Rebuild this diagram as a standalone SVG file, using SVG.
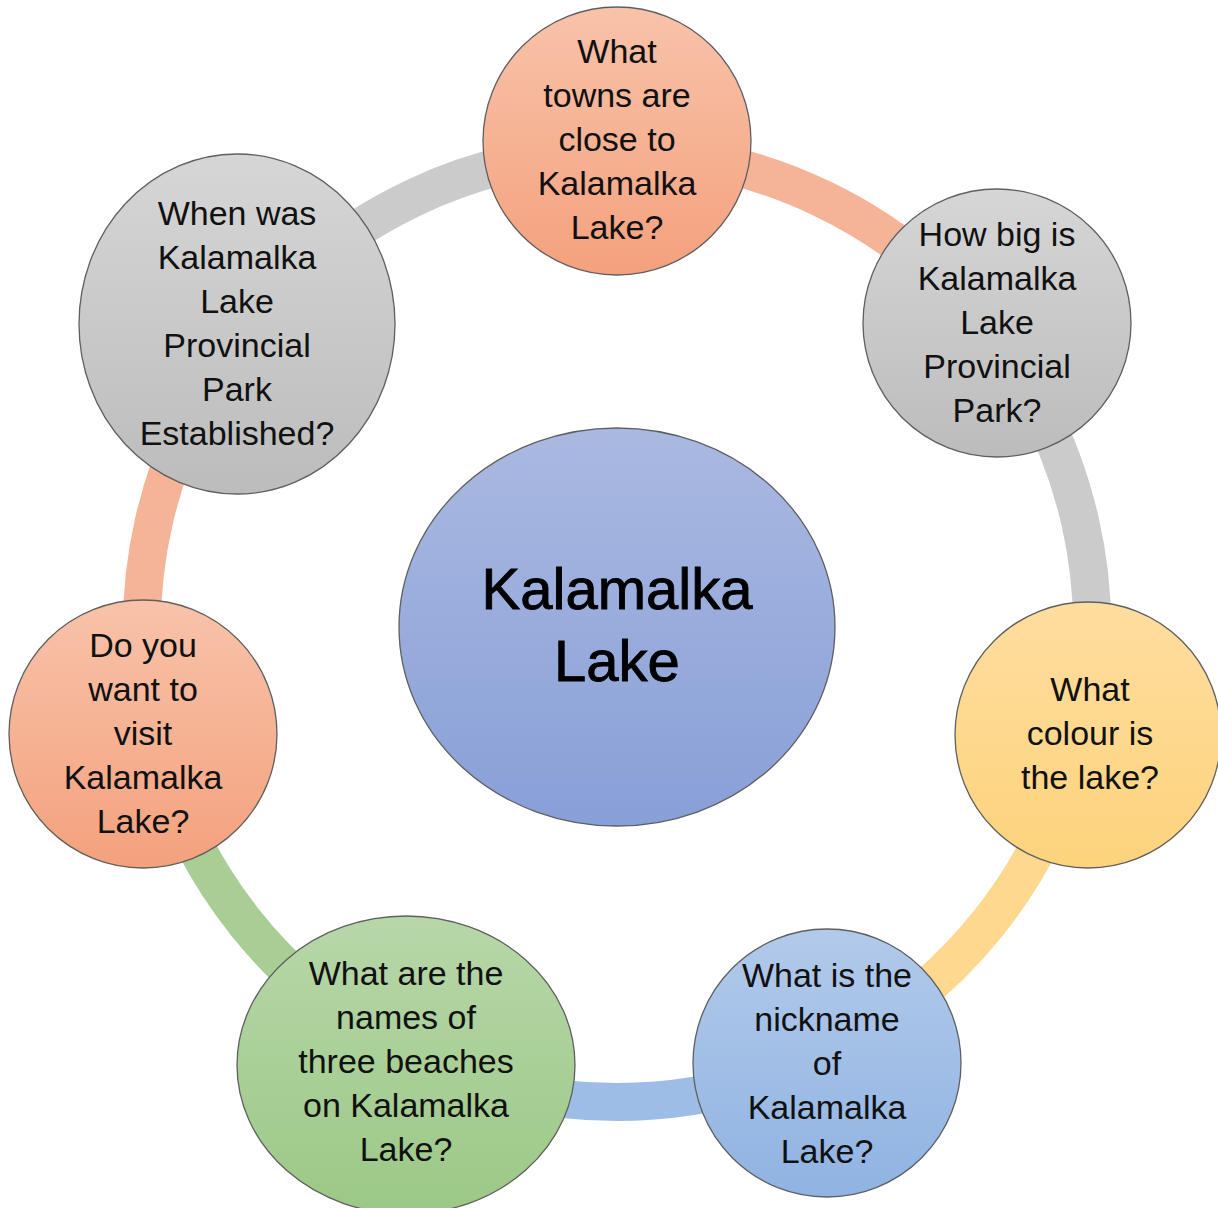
<svg xmlns="http://www.w3.org/2000/svg" width="1218" height="1208" viewBox="0 0 1218 1208">
  <defs>
    <linearGradient id="gSalmon" x1="0" y1="0" x2="0" y2="1">
      <stop offset="0" stop-color="#f8c3aa"/>
      <stop offset="1" stop-color="#f4a17d"/>
    </linearGradient>
    <linearGradient id="gGrey" x1="0" y1="0" x2="0" y2="1">
      <stop offset="0" stop-color="#d6d6d6"/>
      <stop offset="1" stop-color="#bcbcbc"/>
    </linearGradient>
    <linearGradient id="gYellow" x1="0" y1="0" x2="0" y2="1">
      <stop offset="0" stop-color="#fedd9f"/>
      <stop offset="1" stop-color="#fdd37c"/>
    </linearGradient>
    <linearGradient id="gBlue" x1="0" y1="0" x2="0" y2="1">
      <stop offset="0" stop-color="#b2caea"/>
      <stop offset="1" stop-color="#90b3e2"/>
    </linearGradient>
    <linearGradient id="gGreen" x1="0" y1="0" x2="0" y2="1">
      <stop offset="0" stop-color="#b7d7a9"/>
      <stop offset="1" stop-color="#9cc886"/>
    </linearGradient>
    <linearGradient id="gCenter" x1="0" y1="0" x2="0" y2="1">
      <stop offset="0" stop-color="#aab9e1"/>
      <stop offset="1" stop-color="#889fd7"/>
    </linearGradient>
  </defs>
  <style>
    .arc { fill: none; stroke-width: 38; stroke-linecap: butt; }
    .node { stroke: #5f5f5f; stroke-width: 1.3; }
    .lbl { font-family: "Liberation Sans", Arial, sans-serif; font-size: 34px; fill: #111; text-anchor: middle; }
    .ctr { font-family: "Liberation Sans", Arial, sans-serif; font-size: 58px; fill: #000; stroke: #000; stroke-width: 0.9; text-anchor: middle; }
  </style>

  <g id="connectors">
    <path class="arc" stroke="#f5b498" d="M 617 152 A 475 475 0 0 1 988.37 330.84"/>
    <path class="arc" stroke="#cbcbcb" d="M 988.37 330.84 A 475 475 0 0 1 1080.09 732.70"/>
    <path class="arc" stroke="#fed88f" d="M 1080.09 732.70 A 475 475 0 0 1 823.09 1054.96"/>
    <path class="arc" stroke="#9ebde6" d="M 823.09 1054.96 A 475 475 0 0 1 410.91 1054.96"/>
    <path class="arc" stroke="#a8ce96" d="M 410.91 1054.96 A 475 475 0 0 1 153.91 732.70"/>
    <path class="arc" stroke="#f5b498" d="M 153.91 732.70 A 475 475 0 0 1 245.63 330.84"/>
    <path class="arc" stroke="#cbcbcb" d="M 245.63 330.84 A 475 475 0 0 1 617 152"/>
  </g>

  <g id="node-center">
    <ellipse class="node" cx="617" cy="627" rx="218" ry="199" fill="url(#gCenter)"/>
    <text class="ctr" x="617" y="609">Kalamalka</text>
    <text class="ctr" x="617" y="681">Lake</text>
  </g>

  <g id="node-towns">
    <circle class="node" cx="617" cy="141" r="134" fill="url(#gSalmon)"/>
    <text class="lbl" x="617" y="63">What</text>
    <text class="lbl" x="617" y="107">towns are</text>
    <text class="lbl" x="617" y="151">close to</text>
    <text class="lbl" x="617" y="195">Kalamalka</text>
    <text class="lbl" x="617" y="239">Lake?</text>
  </g>

  <g id="node-size">
    <circle class="node" cx="997" cy="323" r="134" fill="url(#gGrey)"/>
    <text class="lbl" x="997" y="246">How big is</text>
    <text class="lbl" x="997" y="290">Kalamalka</text>
    <text class="lbl" x="997" y="334">Lake</text>
    <text class="lbl" x="997" y="378">Provincial</text>
    <text class="lbl" x="997" y="422">Park?</text>
  </g>

  <g id="node-colour">
    <circle class="node" cx="1088" cy="735" r="133" fill="url(#gYellow)"/>
    <text class="lbl" x="1090" y="701">What</text>
    <text class="lbl" x="1090" y="745">colour is</text>
    <text class="lbl" x="1090" y="789">the lake?</text>
  </g>

  <g id="node-nickname">
    <circle class="node" cx="827" cy="1063" r="134" fill="url(#gBlue)"/>
    <text class="lbl" x="827" y="987">What is the</text>
    <text class="lbl" x="827" y="1031">nickname</text>
    <text class="lbl" x="827" y="1075">of</text>
    <text class="lbl" x="827" y="1119">Kalamalka</text>
    <text class="lbl" x="827" y="1163">Lake?</text>
  </g>

  <g id="node-beaches">
    <ellipse class="node" cx="406" cy="1065" rx="169" ry="149" fill="url(#gGreen)"/>
    <text class="lbl" x="406" y="985">What are the</text>
    <text class="lbl" x="406" y="1029">names of</text>
    <text class="lbl" x="406" y="1073">three beaches</text>
    <text class="lbl" x="406" y="1117">on Kalamalka</text>
    <text class="lbl" x="406" y="1161">Lake?</text>
  </g>

  <g id="node-visit">
    <circle class="node" cx="143" cy="734" r="134" fill="url(#gSalmon)"/>
    <text class="lbl" x="143" y="657">Do you</text>
    <text class="lbl" x="143" y="701">want to</text>
    <text class="lbl" x="143" y="745">visit</text>
    <text class="lbl" x="143" y="789">Kalamalka</text>
    <text class="lbl" x="143" y="833">Lake?</text>
  </g>

  <g id="node-established">
    <ellipse class="node" cx="237" cy="324" rx="158" ry="170" fill="url(#gGrey)"/>
    <text class="lbl" x="237" y="225">When was</text>
    <text class="lbl" x="237" y="269">Kalamalka</text>
    <text class="lbl" x="237" y="313">Lake</text>
    <text class="lbl" x="237" y="357">Provincial</text>
    <text class="lbl" x="237" y="401">Park</text>
    <text class="lbl" x="237" y="445">Established?</text>
  </g>
</svg>
